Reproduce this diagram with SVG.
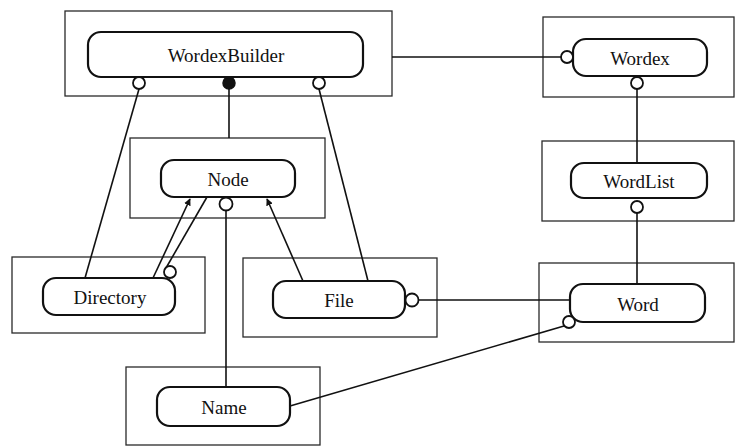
<svg xmlns="http://www.w3.org/2000/svg" width="738" height="446" viewBox="0 0 738 446">
  <style>
    .frame { fill: none; stroke: #2a2a2a; stroke-width: 1.3; }
    .box { fill: #fff; stroke: #111; stroke-width: 2.2; }
    .label { font-family: "Liberation Serif", "Times New Roman", serif; font-size: 19px; fill: #111; text-anchor: middle; dominant-baseline: central; }
    .link { fill: none; stroke: #111; stroke-width: 1.6; }
    .open { fill: #fff; stroke: #111; stroke-width: 1.8; }
    .solid { fill: #111; stroke: #111; stroke-width: 1.5; }
  </style>
  <defs>
    <marker id="head" viewBox="0 0 10 10" refX="9" refY="5" markerWidth="7" markerHeight="7" markerUnits="userSpaceOnUse" orient="auto">
      <path d="M0,0 L10,5 L0,10 z" fill="#111"/>
    </marker>
  </defs>
  <rect width="738" height="446" fill="#fff"/>

  <g id="wordexbuilder">
    <rect class="frame" x="65" y="11" width="327" height="85"/>
    <rect class="box" x="88" y="32" width="275" height="45" rx="13"/>
    <text class="label" x="226" y="55">WordexBuilder</text>
  </g>

  <g id="wordex">
    <rect class="frame" x="543" y="17" width="191" height="80"/>
    <rect class="box" x="573" y="39" width="134" height="37" rx="13"/>
    <text class="label" x="640" y="58">Wordex</text>
  </g>

  <g id="node">
    <rect class="frame" x="130" y="138" width="195" height="80"/>
    <rect class="box" x="161" y="160" width="134" height="37" rx="13"/>
    <text class="label" x="228" y="179">Node</text>
  </g>

  <g id="wordlist">
    <rect class="frame" x="542" y="141" width="192" height="80"/>
    <rect class="box" x="571" y="163" width="136" height="35" rx="13"/>
    <text class="label" x="639" y="181">WordList</text>
  </g>

  <g id="directory">
    <rect class="frame" x="12" y="257" width="193" height="76"/>
    <rect class="box" x="43" y="278" width="132" height="37" rx="13"/>
    <text class="label" x="110" y="297">Directory</text>
  </g>

  <g id="file">
    <rect class="frame" x="243" y="258" width="194" height="79"/>
    <rect class="box" x="273" y="281" width="132" height="37" rx="13"/>
    <text class="label" x="339" y="300">File</text>
  </g>

  <g id="word">
    <rect class="frame" x="539" y="263" width="195" height="79"/>
    <rect class="box" x="570" y="284" width="135" height="38" rx="13"/>
    <text class="label" x="638" y="304">Word</text>
  </g>

  <g id="name">
    <rect class="frame" x="126" y="367" width="194" height="78"/>
    <rect class="box" x="157" y="387" width="133" height="39" rx="13"/>
    <text class="label" x="224" y="407">Name</text>
  </g>

  <g id="connectors">
    <!-- WordexBuilder to Directory, Node, File -->
    <line class="link" x1="139" y1="89" x2="85" y2="278"/>
    <line class="link" x1="229" y1="83" x2="229" y2="138"/>
    <line class="link" x1="319" y1="89" x2="368" y2="281"/>
    <!-- WordexBuilder to Wordex -->
    <line class="link" x1="392" y1="57" x2="561" y2="57"/>
    <!-- Directory and File derived from Node -->
    <line class="link" x1="153" y1="278" x2="190" y2="199" marker-end="url(#head)"/>
    <line class="link" x1="303" y1="281" x2="267" y2="199" marker-end="url(#head)"/>
    <!-- Directory contains Nodes -->
    <line class="link" x1="166" y1="268" x2="207" y2="197"/>
    <!-- Node to Name -->
    <line class="link" x1="226" y1="211" x2="226" y2="387"/>
    <!-- Wordex to WordList to Word -->
    <line class="link" x1="637" y1="89" x2="637" y2="163"/>
    <line class="link" x1="637" y1="213" x2="637" y2="284"/>
    <!-- File to Word, Name to Word -->
    <line class="link" x1="419" y1="300" x2="570" y2="300"/>
    <line class="link" x1="290" y1="406" x2="564" y2="326"/>

    <circle class="open" cx="139" cy="83" r="6"/>
    <circle class="solid" cx="229" cy="83" r="6"/>
    <circle class="open" cx="319" cy="83" r="6"/>
    <circle class="open" cx="567" cy="57" r="6"/>
    <circle class="open" cx="637" cy="83" r="6"/>
    <circle class="open" cx="637" cy="207" r="6"/>
    <circle class="open" cx="226" cy="204" r="6.5"/>
    <circle class="open" cx="170" cy="272" r="6"/>
    <circle class="open" cx="412" cy="300" r="6.5"/>
    <circle class="open" cx="569" cy="322" r="6"/>
  </g>
</svg>
